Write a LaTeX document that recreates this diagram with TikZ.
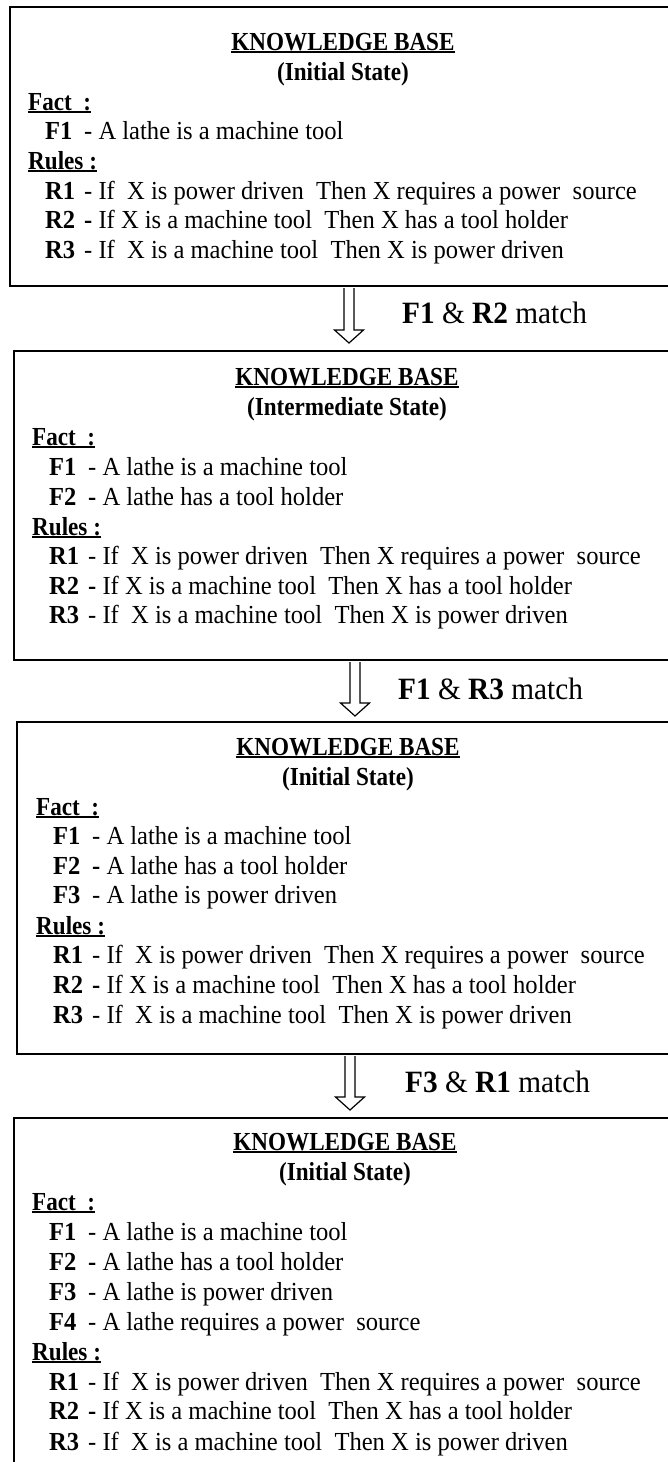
\documentclass[tikz,border=0pt]{standalone}
\usepackage{fontspec}
\setmainfont{Liberation Serif}[FakeStretch=0.945]
\newfontfamily\headfont{Liberation Serif}[FakeStretch=0.89]
\usetikzlibrary{calc}

% text sizes used in the knowledge-base panels
\newcommand\kbsize{\fontsize{26pt}{30pt}\selectfont}
\newcommand\matchsize{\fontsize{31pt}{36pt}\selectfont}
% underlined heading text
\newcommand\ulined[1]{\setbox0\hbox{#1}\rlap{\rule[-2.6pt]{\wd0}{1.6pt}}\box0}
% fact / rule labels: bold tag, then a plain or a bold dash
\newcommand\plainlab[1]{\makebox[39pt][l]{\textbf{#1}}-\ }
\newcommand\boldlab[1]{\makebox[39pt][l]{\textbf{#1}}\textbf{-}\ }

\tikzset{
  frame/.style={draw, line width=2pt, rectangle, anchor=north west, inner sep=0pt},
  kbtitle/.style={anchor=base, inner sep=0pt, font=\kbsize\headfont\bfseries},
  kbhead/.style={anchor=base west, inner sep=0pt, font=\kbsize\headfont\bfseries},
  kbentry/.style={anchor=base west, inner sep=0pt, font=\kbsize},
  matchlabel/.style={anchor=base west, inner sep=0pt, font=\matchsize},
  bigarrow/.style={draw, line width=1.2pt, fill=white, line join=miter},
}

% hollow block arrow from #1 (top of shaft) down to #2 (tip)
\newcommand\blockarrow[2]{%
  \draw[bigarrow] ([xshift=-5pt]#1) -- ([xshift=-5pt,yshift=13pt]#2)
    -- ([xshift=-14.5pt,yshift=13pt]#2) -- (#2)
    -- ([xshift=14.5pt,yshift=13pt]#2) -- ([xshift=5pt,yshift=13pt]#2)
    -- ([xshift=5pt]#1);}

\begin{document}
\begin{tikzpicture}[x=1pt,y=-1pt]
\useasboundingbox (0,0) rectangle (668,1462);

% ---------- panel 1 ----------
\node[frame, minimum width=690pt, minimum height=279pt] (kb1) at (9,6) {};
\node[kbtitle] (kb1t) at (343,50) {\ulined{KNOWLEDGE BASE}};
\node[kbtitle] (kb1s) at (343,80) {(Initial State)};
\node[kbhead] (kb1fact) at (28,110) {\ulined{Fact\ \ :}};
\node[kbentry] (kb1f1) at (45,139) {\plainlab{F1}A lathe is a machine tool};
\node[kbhead] (kb1rules) at (28,169) {\ulined{Rules :}};
\node[kbentry] (kb1r1) at (45,199) {\plainlab{R1}If\ \ X is power driven\ \ Then X requires a power\ \ source};
\node[kbentry] (kb1r2) at (45,228) {\boldlab{R2}If X is a machine tool\ \ Then X has a tool holder};
\node[kbentry] (kb1r3) at (45,258) {\plainlab{R3}If\ \ X is a machine tool\ \ Then X is power driven};

% ---------- panel 2 ----------
\node[frame, minimum width=690pt, minimum height=309pt] (kb2) at (13,350) {};
\node[kbtitle] (kb2t) at (347,385) {\ulined{KNOWLEDGE BASE}};
\node[kbtitle] (kb2s) at (347,415) {(Intermediate State)};
\node[kbhead] (kb2fact) at (32,445) {\ulined{Fact\ \ :}};
\node[kbentry] (kb2f1) at (49,475) {\plainlab{F1}A lathe is a machine tool};
\node[kbentry] (kb2f2) at (49,505) {\boldlab{F2}A lathe has a tool holder};
\node[kbhead] (kb2rules) at (32,535) {\ulined{Rules :}};
\node[kbentry] (kb2r1) at (49,564) {\plainlab{R1}If\ \ X is power driven\ \ Then X requires a power\ \ source};
\node[kbentry] (kb2r2) at (49,594) {\boldlab{R2}If X is a machine tool\ \ Then X has a tool holder};
\node[kbentry] (kb2r3) at (49,623) {\plainlab{R3}If\ \ X is a machine tool\ \ Then X is power driven};

% ---------- panel 3 ----------
\node[frame, minimum width=690pt, minimum height=332pt] (kb3) at (16,721) {};
\node[kbtitle] (kb3t) at (348,755) {\ulined{KNOWLEDGE BASE}};
\node[kbtitle] (kb3s) at (348,785) {(Initial State)};
\node[kbhead] (kb3fact) at (36,815) {\ulined{Fact\ \ :}};
\node[kbentry] (kb3f1) at (53,844) {\plainlab{F1}A lathe is a machine tool};
\node[kbentry] (kb3f2) at (53,874) {\boldlab{F2}A lathe has a tool holder};
\node[kbentry] (kb3f3) at (53,903) {\plainlab{F3}A lathe is power driven};
\node[kbhead] (kb3rules) at (36,934) {\ulined{Rules :}};
\node[kbentry] (kb3r1) at (53,963) {\plainlab{R1}If\ \ X is power driven\ \ Then X requires a power\ \ source};
\node[kbentry] (kb3r2) at (53,993) {\boldlab{R2}If X is a machine tool\ \ Then X has a tool holder};
\node[kbentry] (kb3r3) at (53,1023) {\plainlab{R3}If\ \ X is a machine tool\ \ Then X is power driven};

% ---------- panel 4 ----------
\node[frame, minimum width=690pt, minimum height=370pt] (kb4) at (13,1117) {};
\node[kbtitle] (kb4t) at (345,1150) {\ulined{KNOWLEDGE BASE}};
\node[kbtitle] (kb4s) at (345,1180) {(Initial State)};
\node[kbhead] (kb4fact) at (32,1210) {\ulined{Fact\ \ :}};
\node[kbentry] (kb4f1) at (49,1240) {\plainlab{F1}A lathe is a machine tool};
\node[kbentry] (kb4f2) at (49,1270) {\boldlab{F2}A lathe has a tool holder};
\node[kbentry] (kb4f3) at (49,1300) {\plainlab{F3}A lathe is power driven};
\node[kbentry] (kb4f4) at (49,1330) {\plainlab{F4}A lathe requires a power\ \ source};
\node[kbhead] (kb4rules) at (32,1360) {\ulined{Rules :}};
\node[kbentry] (kb4r1) at (49,1390) {\plainlab{R1}If\ \ X is power driven\ \ Then X requires a power\ \ source};
\node[kbentry] (kb4r2) at (49,1419) {\boldlab{R2}If X is a machine tool\ \ Then X has a tool holder};
\node[kbentry] (kb4r3) at (49,1450) {\plainlab{R3}If\ \ X is a machine tool\ \ Then X is power driven};

% ---------- inference steps ----------
\coordinate (a1s) at ($(kb1.south west)+(340,1)$);
\coordinate (a1e) at ($(kb2.north west)+(336,-7)$);
\blockarrow{a1s}{a1e}
\node[matchlabel] (m1) at (402,323) {\textbf{F1} \& \textbf{R2} match};

\coordinate (a2s) at ($(kb2.south west)+(342,1)$);
\coordinate (a2e) at ($(kb3.north west)+(339,-5)$);
\blockarrow{a2s}{a2e}
\node[matchlabel] (m2) at (398,699) {\textbf{F1} \& \textbf{R3} match};

\coordinate (a3s) at ($(kb3.south west)+(334,1)$);
\coordinate (a3e) at ($(kb4.north west)+(337,-7)$);
\blockarrow{a3s}{a3e}
\node[matchlabel] (m3) at (405,1092) {\textbf{F3} \& \textbf{R1} match};
\end{tikzpicture}
\end{document}
